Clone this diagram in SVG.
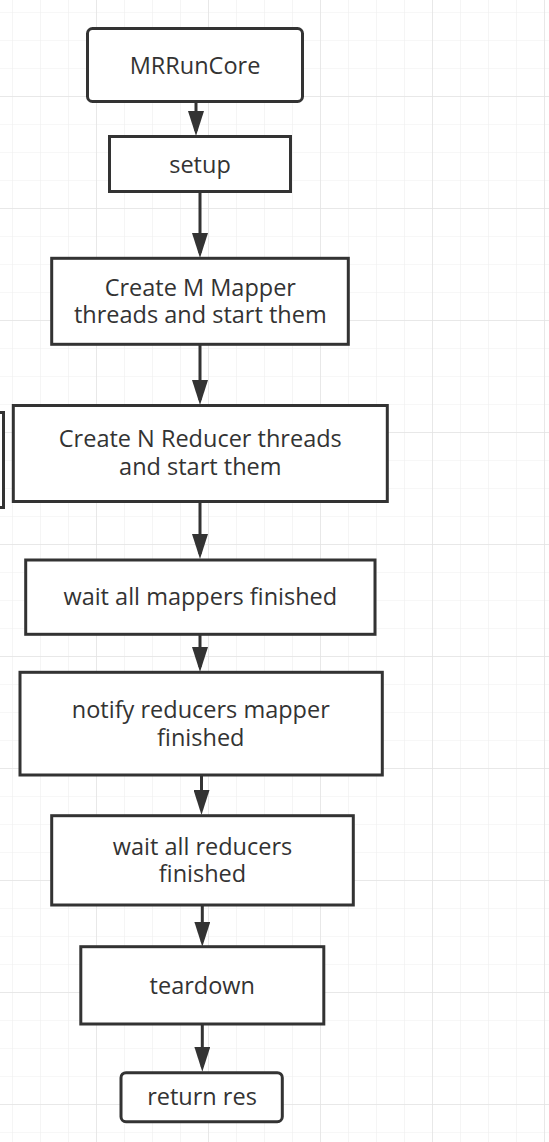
<svg xmlns="http://www.w3.org/2000/svg" width="549" height="1142" viewBox="0 0 549 1142">
  <defs>
    <pattern id="minor" x="12" y="12" width="28" height="28" patternUnits="userSpaceOnUse">
      <path d="M0,0 H28 M0,0 V28" fill="none" stroke="#efefef" stroke-width="1.2"/>
    </pattern>
    <pattern id="major" x="96" y="96" width="112" height="112" patternUnits="userSpaceOnUse">
      <path d="M0,0 H112 M0,0 V112" fill="none" stroke="#e4e4e4" stroke-width="1.5"/>
    </pattern>
    <marker id="arrow" markerUnits="userSpaceOnUse" markerWidth="25" markerHeight="16" refX="20" refY="8" orient="auto">
      <path d="M0,0 L25,8 L0,16 Z" fill="#333333"/>
    </marker>
  </defs>
  <style>
    .box { fill: #ffffff; stroke: #333333; stroke-width: 3; }
    .lbl { font-family: "Open Sans", "Noto Sans", "DejaVu Sans", sans-serif; font-size: 23.5px; fill: #333333; text-anchor: middle; }
    .conn { fill: none; stroke: #333333; stroke-width: 3; marker-end: url(#arrow); }
  </style>
  <rect x="0" y="0" width="549" height="1142" fill="#ffffff"/>
  <rect x="0" y="0" width="549" height="1142" fill="url(#minor)"/>
  <rect x="0" y="0" width="549" height="1142" fill="url(#major)"/>

  <g id="connectors">
    <path class="conn" d="M196,102 V131"/>
    <path class="conn" d="M200,192 V253"/>
    <path class="conn" d="M200,345 V400"/>
    <path class="conn" d="M200,502 V554"/>
    <path class="conn" d="M200,635 V667"/>
    <path class="conn" d="M201.5,776 V810"/>
    <path class="conn" d="M202.3,906 V941.7"/>
    <path class="conn" d="M202.3,1025 V1066.7"/>
  </g>

  <g id="node-offscreen">
    <rect class="box" x="-200" y="412.5" width="203.5" height="95"/>
  </g>
  <g id="node-mrruncore">
    <rect class="box" x="87.5" y="28.5" width="215" height="73" rx="5" ry="5"/>
    <text class="lbl" x="195" y="74">MRRunCore</text>
  </g>
  <g id="node-setup">
    <rect class="box" x="109.5" y="136.5" width="181" height="55"/>
    <text class="lbl" x="200" y="173">setup</text>
  </g>
  <g id="node-create-mappers">
    <rect class="box" x="51.7" y="258.3" width="296.6" height="86"/>
    <text class="lbl" x="200.3" y="295.7">Create M Mapper</text>
    <text class="lbl" x="200.3" y="323.3">threads and start them</text>
  </g>
  <g id="node-create-reducers">
    <rect class="box" x="13.3" y="405.5" width="374" height="96"/>
    <text class="lbl" x="200.3" y="446.7">Create N Reducer threads</text>
    <text class="lbl" x="200.3" y="475">and start them</text>
  </g>
  <g id="node-wait-mappers">
    <rect class="box" x="25.7" y="560" width="349.3" height="74.3"/>
    <text class="lbl" x="200.3" y="604.5">wait all mappers finished</text>
  </g>
  <g id="node-notify">
    <rect class="box" x="20" y="672.3" width="362.3" height="102.7"/>
    <text class="lbl" x="200.8" y="718.3">notify reducers mapper</text>
    <text class="lbl" x="200.8" y="746">finished</text>
  </g>
  <g id="node-wait-reducers">
    <rect class="box" x="51.7" y="815.7" width="301.6" height="89.3"/>
    <text class="lbl" x="202.5" y="855">wait all reducers</text>
    <text class="lbl" x="202.5" y="882">finished</text>
  </g>
  <g id="node-teardown">
    <rect class="box" x="80.8" y="946.7" width="243" height="77.3"/>
    <text class="lbl" x="202.3" y="994">teardown</text>
  </g>
  <g id="node-return">
    <rect class="box" x="121" y="1072.7" width="161.3" height="49" rx="5" ry="5"/>
    <text class="lbl" x="202" y="1105">return res</text>
  </g>
</svg>
